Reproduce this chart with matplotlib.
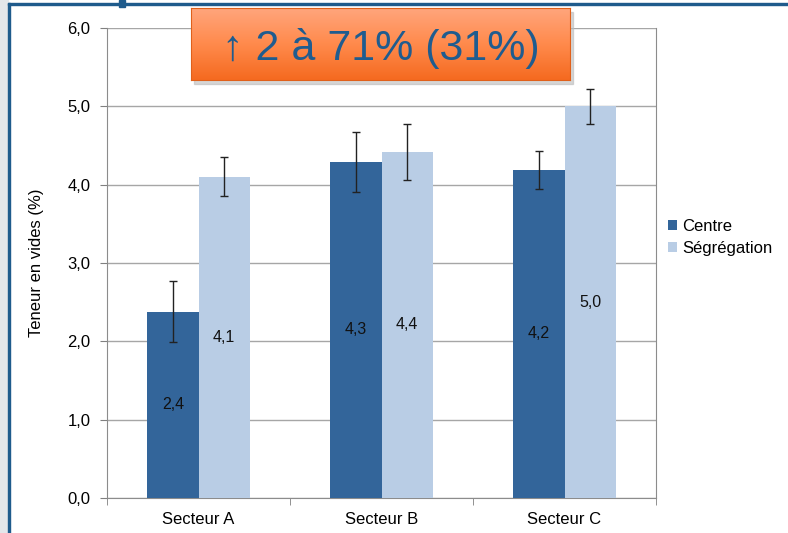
import numpy as np
import matplotlib
matplotlib.use("Agg")
from matplotlib import pyplot as plt
from matplotlib.patches import Rectangle
from matplotlib.ticker import FuncFormatter
from matplotlib.colors import LinearSegmentedColormap

plt.rcParams['font.family'] = ['Liberation Sans', 'DejaVu Sans']

secteurs = ["Secteur A", "Secteur B", "Secteur C"]
centre = [2.38, 4.29, 4.19]
segregation = [4.10, 4.42, 5.00]
err_centre = [0.385, 0.385, 0.24]
err_segregation = [0.25, 0.36, 0.22]
labels_centre = ["2,4", "4,3", "4,2"]
labels_segregation = ["4,1", "4,4", "5,0"]

dark = "#33659A"
light = "#B9CDE5"

fig = plt.figure(figsize=(7.88, 5.33), dpi=100)
W, H = 788, 533

# cadre de la diapo
fig.patches.append(Rectangle((0, 0), 8 / W, 1, transform=fig.transFigure,
                             color="#E4E6EA", zorder=0))
fig.patches.append(Rectangle((8 / W, 0), 2 / W, 1 - 3 / H, transform=fig.transFigure,
                             color="#1F5B8C", zorder=1))
fig.patches.append(Rectangle((8 / W, 1 - 5 / H), 1, 2 / H, transform=fig.transFigure,
                             color="#1F5B8C", zorder=1))
fig.patches.append(Rectangle((119 / W, 1 - 7 / H), 6 / W, 7 / H, transform=fig.transFigure,
                             color="#1F5B8C", zorder=1))

ax = fig.add_axes([107 / W, 1 - 498 / H, (656 - 107) / W, (498 - 28) / H])
x = np.arange(len(secteurs))
w = 0.28
ek = dict(ecolor="#222222", elinewidth=1, capsize=3, capthick=1)
b1 = ax.bar(x - w / 2, centre, w, color=dark, label="Centre",
            yerr=err_centre, error_kw=ek, zorder=3)
b2 = ax.bar(x + w / 2, segregation, w, color=light, label="Ségrégation",
            yerr=err_segregation, error_kw=ek, zorder=3)
ax.bar_label(b1, labels=labels_centre, label_type="center", fontsize=11.5, color="#111111")
ax.bar_label(b2, labels=labels_segregation, label_type="center", fontsize=11.5, color="#111111")

ax.set_ylim(0, 6)
ax.set_xlim(-0.5, 2.5)
ax.set_yticks(np.arange(0, 6.1, 1))
ax.yaxis.set_major_formatter(FuncFormatter(lambda v, p: f"{v:.1f}".replace(".", ",")))
ax.set_xticks(x)
ax.set_xticklabels(secteurs)
ax.set_xticks([-0.5, 0.5, 1.5, 2.5], minor=True)
ax.tick_params(axis="x", which="major", length=0, labelsize=12, pad=10)
ax.tick_params(axis="x", which="minor", length=5, color="#808080")
ax.tick_params(axis="y", length=5, color="#808080", labelsize=12, pad=7)
ax.grid(axis="y", color="#A6A6A6", linewidth=1, zorder=0)
for s in ["left", "right", "bottom"]:
    ax.spines[s].set_color("#8C8C8C")
ax.spines["top"].set_visible(False)
ax.set_ylabel("Teneur en vides (%)", fontsize=12, labelpad=17)

ax.legend(loc="upper left", bbox_to_anchor=(0.995, 0.625), frameon=False, fontsize=12,
          handlelength=0.55, handleheight=0.55, handletextpad=0.3, labelspacing=0.4)

# encadré orange
bx0, by0, bx1, by1 = 191, 8, 570, 80
fig.patches.append(Rectangle(((bx0 + 3) / W, 1 - (by1 + 4) / H), (bx1 - bx0) / W, (by1 - by0) / H,
                             transform=fig.transFigure, color="#BBBBBB", alpha=0.6, zorder=4))
cax = fig.add_axes([bx0 / W, 1 - by1 / H, (bx1 - bx0) / W, (by1 - by0) / H], zorder=5)
grad = np.linspace(0, 1, 100).reshape(-1, 1)
cmap = LinearSegmentedColormap.from_list("o", ["#FFA57C", "#FF8A4C", "#F56A20"])
cax.imshow(grad, aspect="auto", cmap=cmap, extent=(0, 1, 0, 1), origin="upper")
cax.set_xticks([])
cax.set_yticks([])
for s in cax.spines.values():
    s.set_color("#E0601A")
cax.text(0.5, 0.44, "↑ 2 à 71% (31%)", ha="center", va="center", fontsize=31,
         color="#1F5C8F", transform=cax.transAxes)

fig.savefig("out.png", dpi=100)
